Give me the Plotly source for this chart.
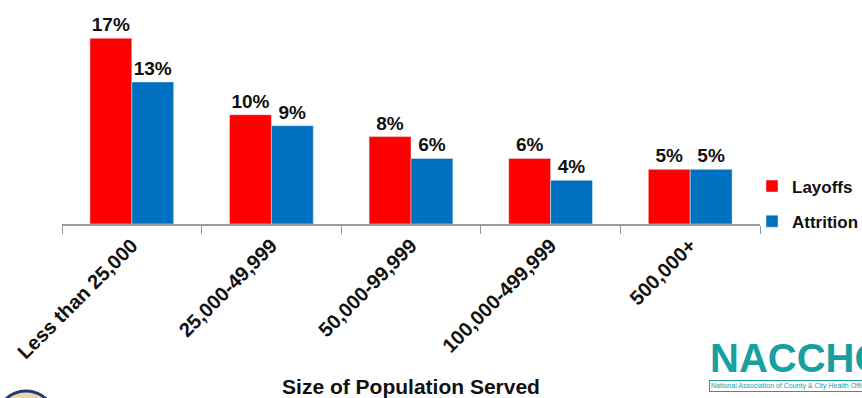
import plotly.graph_objects as go

categories = ["Less than 25,000", "25,000-49,999", "50,000-99,999", "100,000-499,999", "500,000+"]
layoffs = [17, 10, 8, 6, 5]
attrition = [13, 9, 6, 4, 5]

font_fam = "Liberation Sans, Arial, sans-serif"
W, H = 862, 398
L, R, T, B = 62, 102, 0, 174
pw, ph = W - L - R, H - T - B

def px(x):
    return (x - L) / pw

def py(y):
    return (H - B - y) / ph

fig = go.Figure()
fig.add_trace(go.Bar(
    x=categories, y=layoffs, name="Layoffs", marker_color="#ff0000", legendgroup="a",
    text=[f"{v}%" for v in layoffs], textposition="outside", cliponaxis=False,
    textfont=dict(size=19, color="#111111", family=font_fam, weight="bold"),
))
fig.add_trace(go.Bar(
    x=categories, y=attrition, name="Attrition", marker_color="#0070c0", legendgroup="b",
    text=[f"{v}%" for v in attrition], textposition="outside", cliponaxis=False,
    textfont=dict(size=19, color="#111111", family=font_fam, weight="bold"),
))

fig.update_layout(
    width=W, height=H,
    margin=dict(l=L, r=R, t=T, b=B, autoexpand=False),
    paper_bgcolor="white", plot_bgcolor="white",
    barmode="group", bargap=0.4, bargroupgap=0,
    font=dict(family=font_fam, color="#111111"),
    showlegend=True,
    legend=dict(xref="container", yref="container", x=752 / W, y=1 - 204 / H,
                xanchor="left", yanchor="middle", traceorder="grouped",
                font=dict(size=17, family=font_fam, weight="bold", color="#111111"),
                itemwidth=30, tracegroupgap=10, bgcolor="rgba(0,0,0,0)"),
    xaxis=dict(
        tickangle=-45, tickson="boundaries", ticks="outside", ticklen=8,
        tickcolor="#999999", showline=True, linecolor="#999999", linewidth=2,
        tickfont=dict(size=20, family=font_fam, weight="bold", color="#111111"),
        title=dict(text="Size of Population Served", standoff=18,
                   font=dict(size=21, family=font_fam, weight="bold", color="#111111")),
    ),
    yaxis=dict(range=[0, 20.5], visible=False, showgrid=False),
)

teal = "#1a9fa0"
# NACCHO logo (decorative)
fig.add_annotation(xref="paper", yref="paper", x=px(708), y=py(358),
                   xanchor="left", yanchor="middle", text="<b>NACCHO</b>",
                   showarrow=False, font=dict(size=40, color=teal, family=font_fam))
fig.add_annotation(xref="paper", yref="paper", x=px(709), y=py(386),
                   xanchor="left", yanchor="middle",
                   text="National Association of County &amp; City Health Officials",
                   showarrow=False, font=dict(size=7, color=teal, family=font_fam),
                   bordercolor=teal, borderwidth=1, borderpad=1)
# partial seal at bottom-left (decorative)
fig.add_shape(type="circle", xref="paper", yref="paper",
              x0=px(-4), x1=px(56), y0=py(452), y1=py(391),
              line=dict(color="#1f3a6e", width=3), fillcolor="#e9d6b0", layer="above")

fig.write_html("out.html")
